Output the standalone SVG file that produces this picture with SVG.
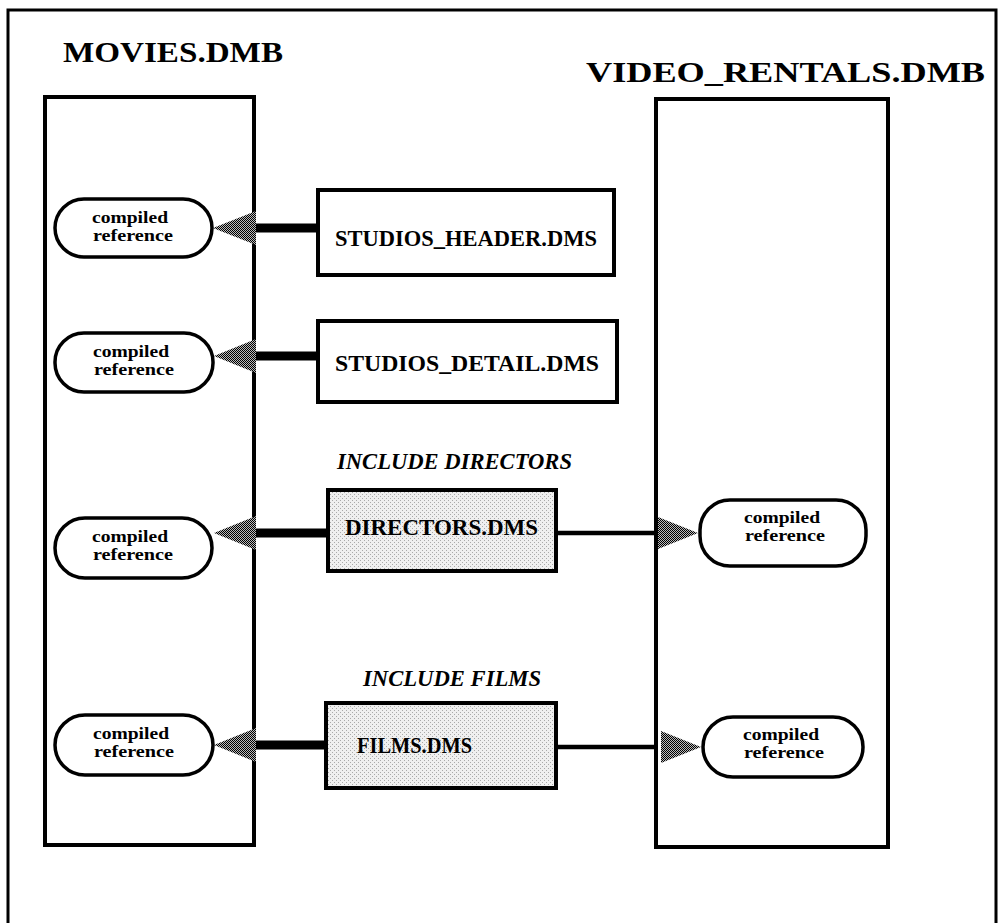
<svg xmlns="http://www.w3.org/2000/svg" width="1002" height="923" viewBox="0 0 1002 923">
<defs>
<pattern id="dither" width="2" height="2" patternUnits="userSpaceOnUse">
<rect x="0" y="0" width="2" height="2" fill="#bbb"/>
<rect x="0" y="0" width="1" height="1" fill="#000"/>
<rect x="1" y="1" width="1" height="1" fill="#000"/>
</pattern>
<pattern id="shade" width="4" height="4" patternUnits="userSpaceOnUse">
<rect x="0" y="0" width="4" height="4" fill="#f0f0f0"/>
<rect x="0" y="0" width="1" height="1" fill="#aaa"/>
<rect x="2" y="2" width="1" height="1" fill="#aaa"/>
</pattern>
</defs>
<style>
.frame{fill:none;stroke:#000;stroke-width:3}
.db{fill:#fff;stroke:#000;stroke-width:4}
.file{fill:#fff;stroke:#000;stroke-width:4}
.inc{fill:url(#shade);stroke:#000;stroke-width:4}
.pill{fill:#fff;stroke:#000;stroke-width:3.5}
.title{font-family:"Liberation Serif",serif;font-weight:bold;font-size:29px;fill:#000}
.ftxt{font-family:"Liberation Serif",serif;font-weight:bold;font-size:24px;fill:#000}
.ptxt{font-family:"Liberation Serif",serif;font-weight:bold;font-size:17px;fill:#000}
.itxt{font-family:"Liberation Serif",serif;font-weight:bold;font-style:italic;font-size:23px;fill:#000}
.thick{stroke:#000;stroke-width:9;fill:none}
.thin{stroke:#000;stroke-width:4.5;fill:none}
.head{fill:url(#dither)}
</style>
<rect width="1002" height="923" fill="#fff"/>
<path class="frame" d="M8,930 V10 H996 V930"/>

<g id="movies">
<rect class="db" x="45" y="97" width="209" height="748"/>
<text class="title" x="63" y="62" textLength="220" lengthAdjust="spacingAndGlyphs">MOVIES.DMB</text>
</g>
<g id="video_rentals">
<rect class="db" x="656" y="99" width="232" height="748"/>
<text class="title" x="586" y="82" textLength="399" lengthAdjust="spacingAndGlyphs">VIDEO_RENTALS.DMB</text>
</g>

<g id="connectors">
<line class="thick" x1="254" y1="228" x2="318" y2="228"/>
<polygon class="head" points="213,228 256,211 256,245"/>
<line class="thick" x1="254" y1="356" x2="318" y2="356"/>
<polygon class="head" points="214,356 256,339 256,373"/>
<line class="thick" x1="254" y1="533" x2="328" y2="533"/>
<polygon class="head" points="214,533 256,516 256,550"/>
<line class="thin" x1="556" y1="533" x2="658" y2="533"/>
<polygon class="head" points="698,533 658,517 658,549"/>
<line class="thick" x1="254" y1="745" x2="326" y2="745"/>
<polygon class="head" points="214,745 256,728 256,762"/>
<line class="thin" x1="556" y1="747" x2="658" y2="747"/>
<polygon class="head" points="701,747 661,731 661,763"/>
</g>

<g id="studios_header">
<rect class="file" x="318" y="190" width="296" height="85"/>
<text class="ftxt" x="335" y="246" textLength="262" lengthAdjust="spacingAndGlyphs">STUDIOS_HEADER.DMS</text>
</g>
<g id="studios_detail">
<rect class="file" x="318" y="321" width="299" height="81"/>
<text class="ftxt" x="335" y="371" textLength="264" lengthAdjust="spacingAndGlyphs">STUDIOS_DETAIL.DMS</text>
</g>
<g id="directors">
<text class="itxt" x="337" y="469" textLength="235" lengthAdjust="spacingAndGlyphs">INCLUDE DIRECTORS</text>
<rect class="inc" x="328" y="490" width="228" height="81"/>
<text class="ftxt" x="345" y="535" textLength="193" lengthAdjust="spacingAndGlyphs">DIRECTORS.DMS</text>
</g>
<g id="films">
<text class="itxt" x="363" y="686" textLength="178" lengthAdjust="spacingAndGlyphs">INCLUDE FILMS</text>
<rect class="inc" x="326" y="703" width="230" height="85"/>
<text class="ftxt" x="357" y="753" textLength="115" lengthAdjust="spacingAndGlyphs">FILMS.DMS</text>
</g>

<g id="ref_movies_1">
<rect class="pill" x="55" y="199" width="157" height="58" rx="29"/>
<text class="ptxt" x="92" y="223" textLength="76" lengthAdjust="spacingAndGlyphs">compiled</text>
<text class="ptxt" x="93" y="241" textLength="80" lengthAdjust="spacingAndGlyphs">reference</text>
</g>
<g id="ref_movies_2">
<rect class="pill" x="55" y="333" width="158" height="59" rx="29"/>
<text class="ptxt" x="93" y="357" textLength="76" lengthAdjust="spacingAndGlyphs">compiled</text>
<text class="ptxt" x="94" y="375" textLength="80" lengthAdjust="spacingAndGlyphs">reference</text>
</g>
<g id="ref_movies_3">
<rect class="pill" x="55" y="518" width="157" height="60" rx="30"/>
<text class="ptxt" x="92" y="542" textLength="76" lengthAdjust="spacingAndGlyphs">compiled</text>
<text class="ptxt" x="93" y="560" textLength="80" lengthAdjust="spacingAndGlyphs">reference</text>
</g>
<g id="ref_movies_4">
<rect class="pill" x="55" y="715" width="158" height="60" rx="30"/>
<text class="ptxt" x="93" y="739" textLength="76" lengthAdjust="spacingAndGlyphs">compiled</text>
<text class="ptxt" x="94" y="757" textLength="80" lengthAdjust="spacingAndGlyphs">reference</text>
</g>
<g id="ref_video_1">
<rect class="pill" x="700" y="500" width="166" height="66" rx="30"/>
<text class="ptxt" x="744" y="523" textLength="76" lengthAdjust="spacingAndGlyphs">compiled</text>
<text class="ptxt" x="745" y="541" textLength="80" lengthAdjust="spacingAndGlyphs">reference</text>
</g>
<g id="ref_video_2">
<rect class="pill" x="703" y="717" width="160" height="60" rx="30"/>
<text class="ptxt" x="743" y="740" textLength="76" lengthAdjust="spacingAndGlyphs">compiled</text>
<text class="ptxt" x="744" y="758" textLength="80" lengthAdjust="spacingAndGlyphs">reference</text>
</g>
</svg>
